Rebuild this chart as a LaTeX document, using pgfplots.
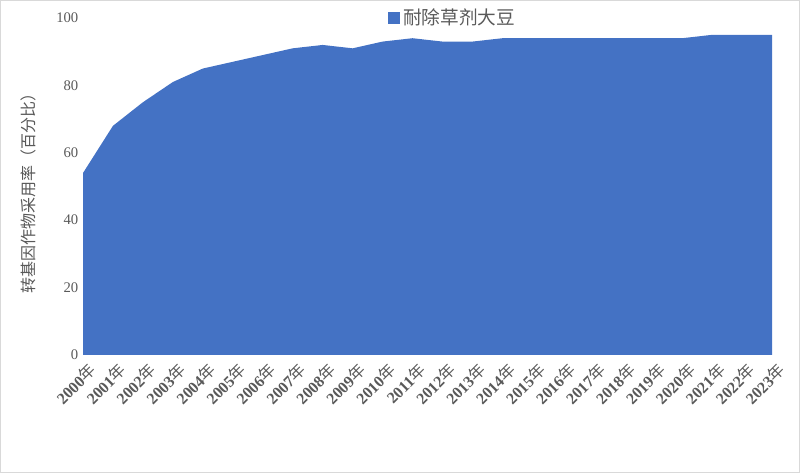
\documentclass[border=0pt]{standalone}
\usepackage{fontspec}
\setmainfont{Liberation Serif}
\newfontfamily\cjk{Noto Sans CJK SC}
\usepackage{pgfplots}
\pgfplotsset{compat=1.18}
\definecolor{areablue}{HTML}{4472C4}
\definecolor{txtgray}{HTML}{595959}
\definecolor{bordergray}{HTML}{D9D9D9}

\pgfplotstableread{
x year val
0  2000 54
1  2001 68
2  2002 75
3  2003 81
4  2004 85
5  2005 87
6  2006 89
7  2007 91
8  2008 92
9  2009 91
10 2010 93
11 2011 94
12 2012 93
13 2013 93
14 2014 94
15 2015 94
16 2016 94
17 2017 94
18 2018 94
19 2019 94
20 2020 94
21 2021 95
22 2022 95
23 2023 95
}\soy

\begin{document}
\begin{tikzpicture}
  % picture frame, 800x473 px at 0.75pt per px
  \draw[bordergray, line width=0.75pt] (0.375pt,0.375pt) rectangle (599.625pt,354.375pt);
  \useasboundingbox (0pt,0pt) rectangle (600pt,354.75pt);
  \begin{axis}[
      at={(62.25pt,88.5pt)}, anchor=origin,
      scale only axis,
      width=516.75pt, height=252.75pt,
      xmin=0, xmax=23, ymin=0, ymax=100,
      axis line style={draw=none},
      tick style={draw=none},
      xtick={0,...,23},
      xticklabel style={rotate=45, anchor=north east, font=\fontsize{12}{14}\selectfont,
                        text=txtgray, inner sep=1pt, yshift=-5pt},
      xticklabel={\textbf{\pgfplotstablegetelem{\ticknum}{year}\of\soy\pgfplotsretval}{\cjk 年}},
      ytick={0,20,...,100},
      yticklabel style={font=\fontsize{11}{13}\selectfont, text=txtgray},
      /pgf/number format/assume math mode=true,
      ylabel={\cjk 转基因作物采用率（百分比）},
      ylabel style={font=\fontsize{12}{14}\selectfont, text=txtgray,
                    at={(axis description cs:-0.062,0.49)}, anchor=south},
      legend style={at={(axis description cs:0.443,1.0)}, anchor=west, draw=none, fill=none,
                    font=\fontsize{14}{16}\selectfont, text=txtgray,
                    legend cell align=left, inner sep=0pt},
      legend image code/.code={\fill[areablue] (0pt,-4.5pt) rectangle (9pt,4.5pt);},
      clip=false,
    ]
    \addplot[fill=areablue, draw=none] table[x=x, y=val] {\soy} \closedcycle;
    \addlegendentry{\cjk 耐除草剂大豆}
  \end{axis}
\end{tikzpicture}
\end{document}
